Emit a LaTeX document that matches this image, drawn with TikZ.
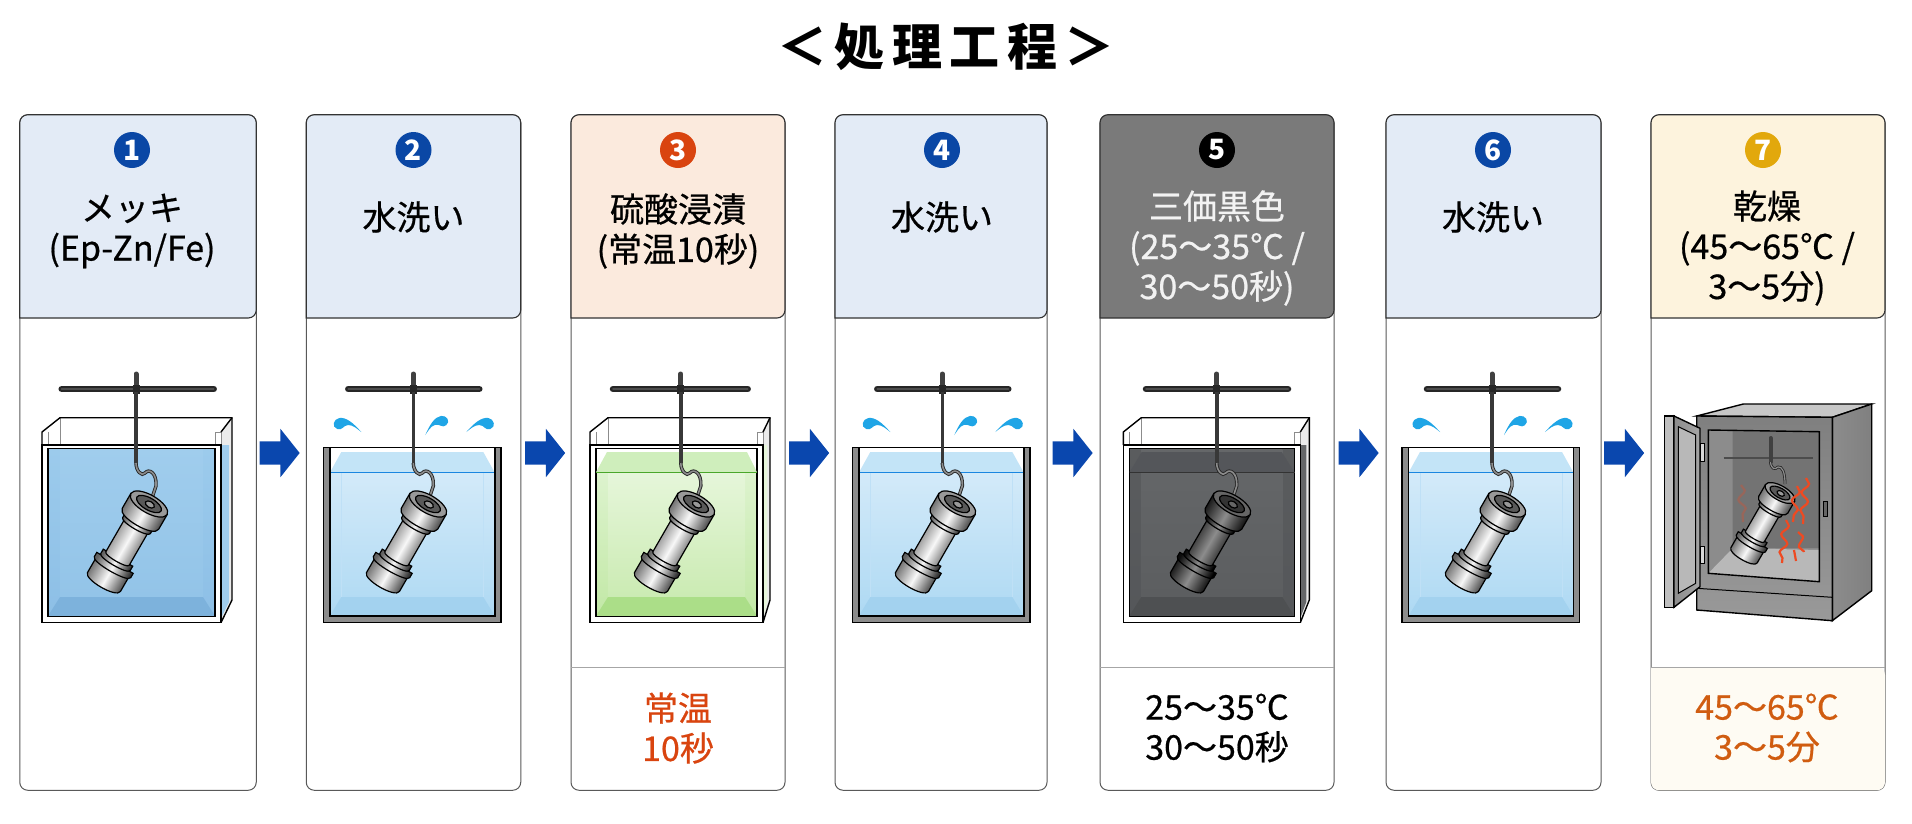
\documentclass[tikz,border=0pt]{standalone}
\usepackage{fontspec}
\setmainfont[FakeBold=0.6,BoldFeatures={FakeBold=0}]{Noto Sans CJK JP}
\usetikzlibrary{shapes.arrows,decorations.pathmorphing}

\definecolor{headblue}{HTML}{E3EBF6}
\definecolor{headorange}{HTML}{FBEADD}
\definecolor{headgray}{HTML}{7A7A7A}
\definecolor{headyellow}{HTML}{FDF3DD}
\definecolor{badgeblue}{HTML}{0A47A5}
\definecolor{badgeorange}{HTML}{D9440F}
\definecolor{badgegold}{HTML}{E2A80C}
\definecolor{arrowblue}{HTML}{0A47AE}
\definecolor{dropblue}{HTML}{1FA5E6}
\definecolor{heatred}{HTML}{EE4A22}
\definecolor{footorange}{HTML}{D05C10}
\definecolor{footcream}{HTML}{FEFBF3}
% tank colours: top / bottom of the water, back wall, floor, surface, surface line
\definecolor{bluetop}{HTML}{9CCBEC}\definecolor{bluebot}{HTML}{8DBFE6}
\definecolor{blueback}{HTML}{A0CDED}\definecolor{bluebackb}{HTML}{93C4E8}\definecolor{bluefloor}{HTML}{7DB2DC}
\definecolor{greentop}{HTML}{DDF3CE}\definecolor{greenbot}{HTML}{C2E8A6}
\definecolor{greenback}{HTML}{E6F6DA}\definecolor{greenbackb}{HTML}{CBEBB3}\definecolor{greenfloor}{HTML}{ABDE88}
\definecolor{greensurf}{HTML}{CFEEBC}\definecolor{greenline}{HTML}{4AA72A}
\definecolor{blacktop}{HTML}{5A5C5E}\definecolor{blackbot}{HTML}{55575A}
\definecolor{blackback}{HTML}{656769}\definecolor{blackbackb}{HTML}{5C5E60}\definecolor{blackfloor}{HTML}{4E5052}
\definecolor{blacksurf}{HTML}{54565A}\definecolor{blackline}{HTML}{333333}
\definecolor{rinsetop}{HTML}{D3EAF9}\definecolor{rinsebot}{HTML}{AED9F3}
\definecolor{rinsefloor}{HTML}{A3D2EF}\definecolor{rinsesurf}{HTML}{C3E4F7}
\definecolor{rinseback}{HTML}{BFE0F6}\definecolor{rinseline}{HTML}{1A86E0}

\tikzset{
  panel/.style={draw=black!65,line width=1pt,rounded corners=8pt,fill=white,outer sep=0pt,minimum height=675.5pt},
  headtext/.style={align=center,font=\fontsize{34}{40}\selectfont},
  badge/.style={shape=circle,inner sep=0pt,minimum size=36pt,text=white,font=\fontsize{28}{28}\selectfont\bfseries},
  flow/.style={shape=single arrow,fill=arrowblue,inner sep=0pt,text height=23pt,text depth=0pt,minimum height=40pt,single arrow head extend=12.5pt,single arrow tip angle=103},
  edge/.style={draw=black,line width=1.4pt},
  thinglass/.style={draw=black!45,line width=.8pt},
  steel/.style={left color=black!62,right color=black!80,middle color=black!3,shading angle=60},
  blackened/.style={left color=black!95,right color=black!100,middle color=black!45,shading angle=60},
  heat/.style={draw=heatred,line width=2.2pt,decorate,decoration={snake,segment length=18pt,amplitude=3.5pt}},
}

% #1 x, #2 y of the top disc, #3 scale, #4 body style, #5 cap colour, #6 recess colour
\newcommand{\workpiece}[6]{
  \begin{scope}[shift={(#1,#2)},rotate=-30,scale=#3,draw=black,line width=1.2pt]
    \draw[#4] (-19,72) -- (-19,90) .. controls (-19,98) and (19,98) .. (19,90) -- (19,72) -- cycle;
    \draw[#4] (-21,68) -- (-21,73) .. controls (-21,79) and (21,79) .. (21,73) -- (21,68) -- cycle;
    \draw[#4] (-17,62) -- (-17,67) .. controls (-17,72) and (17,72) .. (17,67) -- (17,62) -- cycle;
    \draw[#4] (-13.5,22) -- (-13.5,63) .. controls (-13.5,67) and (13.5,67) .. (13.5,63) -- (13.5,22) -- cycle;
    \draw[#4] (-16,18) -- (-16,25) .. controls (-16,30) and (16,30) .. (16,25) -- (16,18) -- cycle;
    \draw[#4] (-21,0) -- (-21,17) .. controls (-21,27) and (21,27) .. (21,17) -- (21,0) -- cycle;
    \draw[fill=#5] (0,0) ellipse [x radius=21pt,y radius=9pt];
    \draw[fill=#6] (0,0) ellipse [x radius=14pt,y radius=6pt];
    \draw[fill=#5] (1,0) ellipse [x radius=5pt,y radius=3pt];
  \end{scope}
}

% #1 x of the post, #2 left end, #3 right end of the bar
\newcommand{\hangbar}[3]{
  \draw[line width=6.5pt,line cap=round,black!85] (#2+3,389) -- (#3-3,389);
  \draw[line width=2pt,line cap=round,black!70] (#2+3,389) -- (#3-3,389);
  \draw[line width=5pt,line cap=round,black!75] (#1,374) -- (#1,392);
  \fill[black!85] (#1-3.5,385) rectangle (#1+3.5,394);
  \draw[line width=3.6pt,black!78] (#1,392) -- (#1,463);
  \draw[line width=.9pt,black!85,double=black!45,double distance=1.6pt] (#1,463) .. controls (#1,471) and (#1+6,477) .. (#1+9,473) .. controls (#1+13,468) and (#1+21,473) .. (#1+20,486) -- (#1+14,504);
}

% #1 x of the tail, #2 options for flip and turn
\newcommand{\splash}[2]{
  \fill[dropblue,shift={(#1,432)},#2] (0,0) .. controls (-8,-9) and (-15,-15) .. (-22,-14) .. controls (-28,-13) and (-30,-5) .. (-24,-3) .. controls (-19,-1) and (-18,-7) .. (-13,-7) .. controls (-8,-7) and (-4,-3) .. (0,0) -- cycle;
}

% rinse tank with the hanger and the drops, #1 x of the post
\newcommand{\rinsetank}[1]{
  \begin{scope}[shift={(#1-90,0)}]
    \fill[white] (6.5,448) rectangle (171.5,616);
    \shade[top color=rinsetop,bottom color=rinsebot] (6.5,472.7) rectangle (171.5,616);
    \path[fill=rinsefloor] (6.5,616) -- (18,597) -- (160,597) -- (171.5,616) -- cycle;
    \draw[rinseback,line width=.8pt] (18,597) -- (18,472.7) (160,597) -- (160,472.7);
    \path[fill=rinsesurf] (6.5,472.7) -- (18,452) -- (160,452) -- (171.5,472.7) -- cycle;
    \draw[rinseline,line width=1.2pt] (6.5,472.7) -- (171.5,472.7);
    \draw[edge,fill=black!45] (0,447.7) -- (0,622.5) -- (177.5,622.5) -- (177.5,447.7) -- (171.5,447.7) -- (171.5,616) -- (6.5,616) -- (6.5,447.7) -- cycle;
    \draw[edge] (6.5,447.7) -- (171.5,447.7);
  \end{scope}
  \splash{#1-52}{}
  \splash{#1+12}{yshift=-3pt,xscale=-1,rotate=-18,scale=.95}
  \splash{#1+53}{xscale=-1}
  \hangbar{#1}{#1-68}{#1+69}
}

% glass tank, #1 x, #2 width, #3 reach of the back edge, #4 colour prefix, #5 water top
\newcommand{\glasstank}[5]{
  \begin{scope}[shift={(#1,0)}]
    \path[fill=black!8] (#2,432) -- (#3,417.7) -- (#3,600) -- (#2,622.6) -- cycle;
    \path[fill=#4back] (#2,445) -- (#3-3,445) -- (#3-3,602) -- (#2,618) -- cycle;
    \shade[top color=#4top,bottom color=#4bot] (6,#5) rectangle (#2-6,616);
    \shade[top color=#4back,bottom color=#4backb] (18,#5) rectangle (#2-18,597);
    \path[fill=#4floor] (6,616) -- (18,597) -- (#2-18,597) -- (#2-6,616) -- cycle;
    \draw[thinglass] (18,417.7) -- (18,445) (6,432) -- (6,445) (#2-6,432) -- (#2-6,445) -- (#2,445) (#2-6,432) -- (#2,432) -- (#2,445);
    \draw[edge] (0,445) -- (0,432) -- (18,417.7) -- (#3,417.7) -- (#3,600) -- (#2,622.6);
    \draw[edge] (#2,432) -- (#3,417.7);
    \path[fill=white,fill opacity=.8,even odd rule] (0,445) rectangle (#2,622.6) (6,448.5) rectangle (#2-6,616.5);
    \draw[edge] (0,445) rectangle (#2,622.6);
    \draw[edge] (6,448.5) rectangle (#2-6,616.5);
  \end{scope}
}

% top of a panel, and the foot of the last one
\newcommand{\panelhead}[2]{
  \draw[draw=black!80,line width=1.1pt,fill=#2,rounded corners=8pt] (#1.west |- 0,318) -- (#1.north west) -- (#1.north east) -- (#1.east |- 0,318) [sharp corners] -- cycle;
}
\newcommand{\panelfoot}[1]{
  \draw[draw=black!35,line width=1pt] (#1.west |- 0,667) -- (#1.east |- 0,667);
}

\begin{document}
\begin{tikzpicture}[x=1pt,y=-1pt]
\useasboundingbox (0,0) rectangle (1912,823);

\node[font=\fontsize{50}{50}\selectfont\bfseries] (title) at (946,47) {＜\kern7.5pt処\kern7.5pt理\kern7.5pt工\kern7.5pt程\kern7.5pt＞};

\node[panel,minimum width=236.5pt] (p1) at (138,452.5) {};
\node[panel,minimum width=214.5pt] (p2) at (413.5,452.5) {};
\node[panel,minimum width=214pt] (p3) at (678,452.5) {};
\node[panel,minimum width=212pt] (p4) at (941,452.5) {};
\node[panel,minimum width=234pt] (p5) at (1217,452.5) {};
\node[panel,minimum width=215pt] (p6) at (1493.5,452.5) {};
\node[panel,minimum width=234pt] (p7) at (1768,452.5) {};

\path[fill=footcream,rounded corners=8pt] (p7.west |- 0,667) -- (p7.south west) -- (p7.south east) -- (p7.east |- 0,667) [sharp corners] -- cycle;
\panelhead{p1}{headblue}
\panelhead{p2}{headblue}
\panelhead{p3}{headorange}
\panelhead{p4}{headblue}
\panelhead{p5}{headgray}
\panelhead{p6}{headblue}
\panelhead{p7}{headyellow}
\panelfoot{p3}
\panelfoot{p5}
\panelfoot{p7}

\node[badge,fill=badgeblue] (b1) at (132,150) {1};
\node[badge,fill=badgeblue] (b2) at (413.5,150) {2};
\node[badge,fill=badgeorange] (b3) at (678,150) {3};
\node[badge,fill=badgeblue] (b4) at (942,150) {4};
\node[badge,fill=black] (b5) at (1217,150) {5};
\node[badge,fill=badgeblue] (b6) at (1493,150) {6};
\node[badge,fill=badgegold] (b7) at (1763,150) {7};

\node[headtext] (h1) at (132,231) {メッキ\\(Ep-Zn/Fe)};
\node[headtext] (h2) at (413.5,217) {水洗い};
\node[headtext] (h3) at (678,231) {硫酸浸漬\\(常温10秒)};
\node[headtext] (h4) at (942,217) {水洗い};
\node[headtext,text=white!95!black] (h5) at (1217,248) {三価黒色\\(25〜35℃ /\\30〜50秒)};
\node[headtext] (h6) at (1493,217) {水洗い};
\node[headtext] (h7) at (1767,248) {乾燥\\(45〜65℃ /\\3〜5分)};

\node[headtext,text=badgeorange] (f3) at (678,728) {常温\\10秒};
\node[headtext] (f5) at (1217,728) {25〜35℃\\30〜50秒};
\node[headtext,text=footorange] (f7) at (1767,728) {45〜65℃\\3〜5分};

\node[flow] (a1) at (275,453) {};
\node[flow] (a2) at (540.5,453) {};
\node[flow] (a3) at (804.5,453) {};
\node[flow] (a4) at (1068,453) {};
\node[flow] (a5) at (1354,453) {};
\node[flow] (a6) at (1619.5,453) {};

% plating tank
\glasstank{42}{179}{190}{blue}{448.5}
\hangbar{136}{58.7}{216.7}
\workpiece{149}{504}{1}{steel}{black!40}{black!65}

% rinse
\rinsetank{413.3}
\workpiece{428}{504}{1}{steel}{black!40}{black!65}

% acid dip
\glasstank{590}{173}{180}{green}{472.3}
\path[fill=greensurf] (596,472.3) -- (607,452) -- (747,452) -- (757,472.3) -- cycle;
\draw[greenline,line width=1.2pt] (596,472.3) -- (757,472.3);
\hangbar{680.8}{610}{750.7}
\workpiece{696}{504}{1}{steel}{black!40}{black!65}

% rinse
\rinsetank{942.3}
\workpiece{957}{504}{1}{steel}{black!40}{black!65}

% trivalent black
\glasstank{1123.3}{177}{186}{black}{449}
\path[fill=blacksurf] (1129.5,472.3) -- (1141.7,452) -- (1281.7,452) -- (1294.5,472.3) -- cycle;
\draw[blackline,line width=1pt] (1129.5,472.3) -- (1294.5,472.3);
\hangbar{1216.7}{1143}{1291}
\workpiece{1232}{504}{1}{blackened}{black!60}{black!80}

% rinse
\rinsetank{1492}
\workpiece{1507}{504}{1}{steel}{black!40}{black!65}

% oven
\draw[edge,fill=black!22] (1696.7,416) -- (1743.3,404) -- (1871.7,404) -- (1832.3,417.3) -- cycle;
\draw[edge,left color=black!45,right color=black!50] (1832.3,417.3) -- (1871.7,404) -- (1871.7,590.7) -- (1832.3,620.7) -- cycle;
\draw[edge,top color=black!50,bottom color=black!40] (1696.7,416) -- (1832.3,417.3) -- (1832.3,620.7) -- (1696.7,610) -- cycle;
\draw[line width=1pt] (1696.7,588.3) -- (1832.3,597.3);
\path[fill=black!45] (1708.3,430) -- (1819.3,431.7) -- (1819.3,581.7) -- (1708.3,573.3) -- cycle;
\path[fill=black!55] (1732.7,431) -- (1819.3,431.7) -- (1819.3,548) -- (1732.7,548) -- cycle;
\path[fill=black!28] (1708.3,573.3) -- (1733,548) -- (1819.3,550) -- (1819.3,581.7) -- cycle;
\draw[edge] (1708.3,430) -- (1819.3,431.7) -- (1819.3,581.7) -- (1708.3,573.3) -- cycle;
\draw[black!70,line width=2pt] (1723.5,457.7) -- (1812.7,457.7);
\draw[line width=4pt,line cap=round,black!75] (1770.5,438) -- (1770.5,462);
\draw[line width=.8pt,black!85,double=black!45,double distance=1.2pt] (1770.5,462) .. controls (1771,469) and (1775,470) .. (1778,467) .. controls (1782,466) and (1785,472) .. (1785,484);
\workpiece{1780}{493}{.8}{steel}{black!40}{black!65}
\draw[heat] (1806,478) -- (1803,524);
\draw[heat] (1797,486) -- (1793,522);
\draw[heat] (1786,520) -- (1782,563);
\draw[heat] (1798,532) -- (1804,552);
\draw[heat] (1794,550) -- (1796,561);
\draw[heat,opacity=.3] (1741,485) -- (1743,522);
\draw[edge,fill=black!25] (1664.3,416) -- (1674,416) -- (1674,607.3) -- (1664.3,607.3) -- cycle;
\draw[edge,left color=black!45,right color=black!35] (1674,416) -- (1700,428.3) -- (1700,586.7) -- (1674,607.3) -- cycle;
\draw[line width=1pt,fill=black!28] (1678.3,426.7) -- (1695.7,435) -- (1695.7,583.3) -- (1678.3,593.3) -- cycle;
\draw[line width=.8pt,fill=black!15] (1700,443.3) rectangle (1704,461.7);
\draw[line width=.8pt,fill=black!15] (1700,546.7) rectangle (1704,563.3);
\draw[line width=.8pt,fill=black!60] (1823.3,501.7) rectangle (1827.3,516.7);
\end{tikzpicture}
\end{document}
